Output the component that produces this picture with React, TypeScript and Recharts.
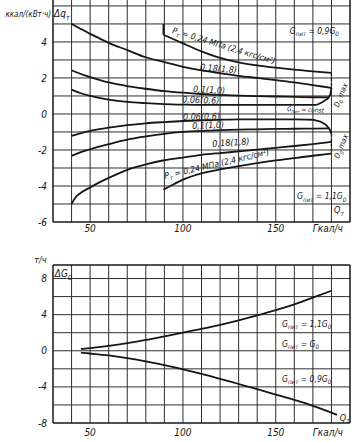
import React from "react";
import { LineChart, Line, XAxis, YAxis, ReferenceLine, ReferenceDot } from "recharts";

// Upper panel: heat-rate correction Δq_т vs heat load Q_т (Гкал/ч)
// group at G_пит = 0.9 G0
const q24u = [89.5, 95, 100, 110, 120, 130, 140, 150, 160, 170, 180];
const dq24u = [4.4, 4.15, 3.92, 3.48, 3.12, 2.87, 2.7, 2.57, 2.46, 2.37, 2.28];
const q18u = [40, 45, 50, 55, 60, 70, 80, 90, 100, 110, 120, 130, 140, 150, 160, 170, 180];
const dq18u = [5.0, 4.72, 4.45, 4.2, 3.95, 3.55, 3.15, 2.88, 2.62, 2.42, 2.27, 2.12, 2.0, 1.88, 1.75, 1.6, 1.45];
const q10u = [40, 45, 50, 60, 70, 80, 90, 100, 110, 120, 130, 140, 150, 160, 170, 179];
const dq10u = [2.43, 2.22, 2.05, 1.75, 1.55, 1.4, 1.27, 1.18, 1.11, 1.06, 1.02, 0.99, 0.97, 0.95, 0.93, 0.92];
const q06u = [40, 45, 50, 60, 70, 80, 90, 100, 110, 120, 130, 140, 150, 160, 172];
const dq06u = [1.35, 1.15, 1.0, 0.8, 0.67, 0.6, 0.55, 0.52, 0.5, 0.5, 0.5, 0.5, 0.5, 0.5, 0.5];
const qTickU = [89.5, 89.5];
const dqTickU = [5.0, 4.4];
const qMaxU = [180, 180];
const dqMaxU = [2.28, 1.45];
const qConstU = [180, 179.5, 178, 175, 172];
const dqConstU = [1.45, 1.1, 0.85, 0.65, 0.5];

// group at G_пит = 1.1 G0
const q06l = [40, 45, 50, 60, 70, 80, 90, 100, 110, 120, 130, 140, 150, 160, 170];
const dq06l = [-1.22, -1.06, -0.94, -0.76, -0.62, -0.52, -0.45, -0.39, -0.35, -0.32, -0.3, -0.3, -0.3, -0.3, -0.32];
const q10l = [40, 45, 50, 60, 70, 80, 90, 100, 110, 120, 130, 140, 150, 160, 170, 179];
const dq10l = [-2.33, -2.12, -1.96, -1.68, -1.43, -1.25, -1.1, -1.0, -0.94, -0.9, -0.87, -0.85, -0.83, -0.82, -0.81, -0.8];
const q18l = [40, 42, 45, 50, 55, 60, 70, 80, 90, 100, 110, 120, 130, 140, 150, 160, 170, 180];
const dq18l = [-5.0, -4.65, -4.38, -4.08, -3.8, -3.55, -3.1, -2.8, -2.57, -2.42, -2.27, -2.17, -2.08, -1.98, -1.88, -1.78, -1.67, -1.55];
const q24l = [89.5, 95, 100, 110, 120, 130, 140, 150, 160, 170, 180];
const dq24l = [-4.2, -3.9, -3.65, -3.3, -3.08, -2.9, -2.73, -2.58, -2.45, -2.32, -2.2];
const qConstL = [170, 174, 177, 179, 180];
const dqConstL = [-0.32, -0.42, -0.6, -0.85, -1.1];
const qMaxL = [180, 180];
const dqMaxL = [-1.1, -2.2];

// Lower panel: feed-water flow correction ΔG0, т/ч
const qG11 = [45, 50, 60, 70, 80, 90, 100, 110, 120, 130, 140, 150, 160, 170, 180];
const dG11 = [0.2, 0.3, 0.55, 0.85, 1.2, 1.6, 2.0, 2.42, 2.88, 3.38, 3.92, 4.5, 5.15, 5.88, 6.65];
const qG09 = [45, 50, 60, 70, 80, 90, 100, 110, 120, 130, 140, 150, 160, 170, 180, 183];
const dG09 = [-0.2, -0.3, -0.52, -0.82, -1.18, -1.6, -2.05, -2.55, -3.1, -3.68, -4.26, -4.85, -5.45, -6.1, -6.85, -7.1];

const xTicks = [50, 100, 150, 178];
const gridQ = [40, 50, 60, 70, 80, 90, 100, 110, 120, 130, 140, 150, 160, 170, 180];
const topTicks = [-6, -4, -2, 0, 2, 4];
const topGrid = [-5, -4, -3, -2, -1, 0, 1, 2, 3, 4, 5, 6];
const botTicks = [-8, -4, 0, 4, 8];
const botGrid = [-6, -4, -2, 0, 2, 4, 6, 8];

const FONT = "'DejaVu Sans Condensed', 'Liberation Sans Narrow', 'DejaVu Sans', sans-serif";
const INK = "#161616";
const GRID = "#2e2e2e";

type Note = { q: number; v: number; text: string; angle?: number; size?: number; anchor?: "start" | "end" | "middle" };

const topNotes: Note[] = [
  { q: 29, v: 5.39, text: "ккал/(кВт·ч)", size: 8, anchor: "end" },
  { q: 30.6, v: 5.4, text: "Δq_{т}", size: 10 },
  { q: 94, v: 4.5, text: "P_{т} = 0,24 МПа (2,4 кгс/см²)", angle: 17, size: 8.5 },
  { q: 109, v: 2.44, text: "0,18(1,8)", angle: 5, size: 9 },
  { q: 105.4, v: 1.22, text: "0,1(1,0)", angle: 3, size: 9 },
  { q: 99.5, v: 0.64, text: "0,06(0,6)", angle: 2, size: 9 },
  { q: 156, v: 0.17, text: "G_{пит} = const", angle: 3, size: 6.5 },
  { q: 157.5, v: 4.45, text: "G_{пит} = 0,9G_{0}", size: 8.5 },
  { q: 183.8, v: 0.35, text: "D_{0} max", angle: -68, size: 7.5 },
  { q: 100, v: -0.33, text: "0,06(0,6)", angle: -1, size: 9 },
  { q: 105, v: -0.83, text: "0,1(1,0)", angle: -2, size: 9 },
  { q: 116, v: -1.83, text: "0,18(1,8)", angle: -4, size: 9 },
  { q: 90.5, v: -3.6, text: "P_{т} = 0,24 МПа (2,4 кгс/см²)", angle: -13, size: 8.5 },
  { q: 184, v: -2.5, text: "D_{0} max", angle: -68, size: 7.5 },
  { q: 161.5, v: -4.72, text: "G_{пит} = 1,1G_{0}", size: 8.5 },
  { q: 181.4, v: -5.5, text: "Q_{т}", size: 9 },
];

const botNotes: Note[] = [
  { q: 26.5, v: 9.75, text: "т/ч", size: 9, anchor: "end" },
  { q: 31, v: 8.2, text: "ΔG_{0}", size: 10 },
  { q: 153.4, v: 2.66, text: "G_{пит} = 1,1G_{0}", size: 8.5 },
  { q: 153.4, v: 0.44, text: "G_{пит} = G_{0}", size: 8.5 },
  { q: 153.4, v: -3.43, text: "G_{пит} = 0,9G_{0}", size: 8.5 },
  { q: 184.5, v: -7.75, text: "Q_{т}", size: 9 },
];

const pts = (qs: number[], vs: number[]) => qs.map((q, i) => ({ q, v: vs[i] }));

function RichText({ x, y, note }: { x: number; y: number; note: Note }) {
  const size = note.size ?? 9;
  const parts = note.text.split(/(_\{[^}]*\})/).filter((p) => p.length > 0);
  let offset = 0;
  const shift = size * 0.3;
  return (
    <text
      x={x}
      y={y}
      fontSize={size}
      fontStyle="italic"
      fontFamily={FONT}
      fill={INK}
      textAnchor={note.anchor ?? "start"}
      transform={note.angle ? `rotate(${note.angle} ${x} ${y})` : undefined}
    >
      {parts.map((p, i) => {
        const sub = p.startsWith("_{");
        const target = sub ? shift : 0;
        const dy = target - offset;
        offset = target;
        return (
          <tspan key={i} dy={dy} fontSize={sub ? size * 0.72 : size}>
            {sub ? p.slice(2, -1) : p}
          </tspan>
        );
      })}
    </text>
  );
}

const tickStyle = { fontSize: 10, fontStyle: "italic", fill: INK, fontFamily: FONT };
const fmtX = (v: number) => (v === 178 ? "Гкал/ч" : String(v));

function curve(key: string, qs: number[], vs: number[], dashed = false, linear = false) {
  return (
    <Line
      key={key}
      data={pts(qs, vs)}
      dataKey="v"
      type={linear ? "linear" : "monotone"}
      stroke={INK}
      strokeWidth={dashed ? 1.3 : 1.8}
      strokeDasharray={dashed ? "3 2" : undefined}
      dot={false}
      isAnimationActive={false}
    />
  );
}

function notes(list: Note[]) {
  return list.map((n, i) => (
    <ReferenceDot
      key={`n${i}`}
      x={n.q}
      y={n.v}
      r={0}
      ifOverflow="visible"
      shape={(p: any) => <RichText x={p.cx} y={p.cy} note={n} />}
    />
  ));
}

export default function App() {
  return (
    <div style={{ position: "absolute", left: 0, top: 0, width: 361, height: 442, background: "#fff", overflow: "hidden" }}>
      <LineChart width={361} height={245} margin={{ top: 0, right: 11, bottom: 0, left: 0 }}>
        <XAxis
          type="number"
          dataKey="q"
          domain={[30, 190]}
          ticks={xTicks}
          tickFormatter={fmtX}
          allowDataOverflow
          height={23}
          tickSize={0}
          tickMargin={3}
          stroke={INK}
          strokeWidth={1.5}
          tick={tickStyle}
        />
        <YAxis
          type="number"
          dataKey="v"
          domain={[-6, 6.33]}
          ticks={topTicks}
          allowDataOverflow
          width={53}
          tickSize={0}
          tickMargin={6}
          stroke={INK}
          strokeWidth={1.5}
          tick={tickStyle}
        />
        {topGrid.map((v) => (
          <ReferenceLine key={`h${v}`} y={v} stroke={GRID} strokeWidth={1} />
        ))}
        {gridQ.map((q) => (
          <ReferenceLine key={`v${q}`} x={q} stroke={GRID} strokeWidth={1} />
        ))}
        <ReferenceLine x={190} stroke={INK} strokeWidth={1.5} />
        {curve("u24", q24u, dq24u)}
        {curve("u18", q18u, dq18u)}
        {curve("u10", q10u, dq10u)}
        {curve("u06", q06u, dq06u)}
        {curve("uTick", qTickU, dqTickU, false, true)}
        {curve("uMax", qMaxU, dqMaxU, true, true)}
        {curve("uConst", qConstU, dqConstU, false, true)}
        {curve("l06", q06l, dq06l)}
        {curve("l10", q10l, dq10l)}
        {curve("l18", q18l, dq18l)}
        {curve("l24", q24l, dq24l)}
        {curve("lConst", qConstL, dqConstL, false, true)}
        {curve("lMax", qMaxL, dqMaxL, true, true)}
        {notes(topNotes)}
      </LineChart>
      <LineChart width={361} height={197} margin={{ top: 20, right: 11, bottom: 0, left: 0 }}>
        <XAxis
          type="number"
          dataKey="q"
          domain={[30, 190]}
          ticks={xTicks}
          tickFormatter={fmtX}
          allowDataOverflow
          height={19}
          tickSize={0}
          tickMargin={6}
          stroke={INK}
          strokeWidth={1.5}
          tick={tickStyle}
        />
        <YAxis
          type="number"
          dataKey="v"
          domain={[-8, 9.5]}
          ticks={botTicks}
          allowDataOverflow
          width={53}
          tickSize={0}
          tickMargin={6}
          stroke={INK}
          strokeWidth={1.5}
          tick={tickStyle}
        />
        {botGrid.map((v) => (
          <ReferenceLine key={`h${v}`} y={v} stroke={GRID} strokeWidth={1} />
        ))}
        {gridQ.map((q) => (
          <ReferenceLine key={`v${q}`} x={q} stroke={GRID} strokeWidth={1} />
        ))}
        <ReferenceLine x={190} stroke={INK} strokeWidth={1.5} />
        <ReferenceLine y={9.5} stroke={INK} strokeWidth={1.5} />
        {curve("g11", qG11, dG11)}
        {curve("g09", qG09, dG09)}
        {notes(botNotes)}
      </LineChart>
    </div>
  );
}
